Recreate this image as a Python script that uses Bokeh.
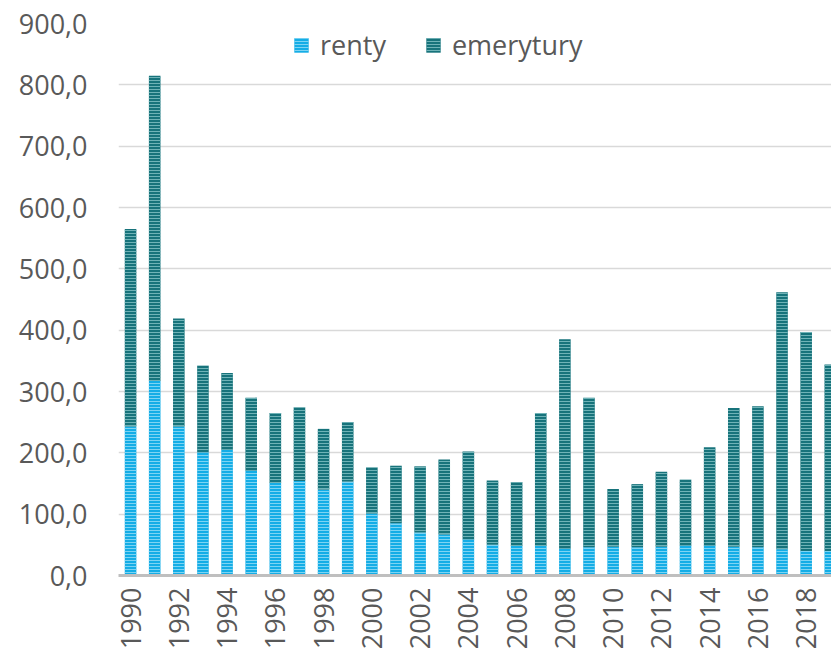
from bokeh.plotting import figure
from bokeh.models import Range1d, FixedTicker, CustomJSTickFormatter, ColumnDataSource, Legend, LegendItem
from bokeh.embed import file_html
from bokeh.resources import INLINE
import math

years = list(range(1990, 2020))
renty = [243, 317, 243, 201, 205, 171, 151, 154, 140, 153,
         101, 85, 70, 67, 59, 50, 48, 48, 44, 46,
         47, 46, 47, 49, 49, 47, 46, 43, 40, 40]
emerytury_total = [565, 815, 419, 342, 330, 290, 265, 274, 239, 250,
                   176, 179, 178, 189, 202, 155, 152, 265, 385, 290,
                   141, 149, 169, 156, 209, 273, 276, 462, 397, 344]
emerytury = [t - r for t, r in zip(emerytury_total, renty)]
y_ticks = [0, 100, 200, 300, 400, 500, 600, 700, 800, 900]
x_ticks = list(range(1990, 2019, 2))

src = ColumnDataSource(dict(year=years, renty=renty, emerytury=emerytury))

FONT = "Open Sans"
TXT = "#595959"

p = figure(width=831, height=652, output_backend="svg", toolbar_location=None,
           x_range=Range1d(1989.5, 2019.05), y_range=Range1d(0, 900),
           min_border_left=118, min_border_right=0, min_border_top=23, min_border_bottom=10)
p.outline_line_color = None
p.background_fill_color = "white"
p.border_fill_color = "white"

r = p.vbar_stack(["renty", "emerytury"], x="year", width=0.48, source=src,
                 color=["#14ade6", "#17737b"],
                 line_color=None,
                 hatch_pattern="horizontal_line", hatch_scale=3, hatch_weight=1,
                 hatch_color=["#7dd4f3", "#6fb3b7"])

p.xgrid.grid_line_color = None
p.ygrid.grid_line_color = "#d9d9d9"
p.ygrid.grid_line_width = 1.5
p.yaxis.ticker = FixedTicker(ticks=y_ticks)
p.yaxis.formatter = CustomJSTickFormatter(code="return tick.toFixed(1).replace('.', ',');")
p.yaxis.axis_line_color = None
p.yaxis.major_tick_line_color = None
p.yaxis.minor_tick_line_color = None
p.yaxis.major_tick_out = 0
p.yaxis.major_tick_in = 0
p.yaxis.major_label_standoff = 31
p.yaxis.major_label_text_font = FONT
p.yaxis.major_label_text_font_size = "27px"
p.yaxis.major_label_text_color = TXT

p.xaxis.ticker = FixedTicker(ticks=x_ticks)
p.xaxis.axis_line_color = "#bfbfbf"
p.xaxis.axis_line_width = 3
p.xaxis.major_tick_line_color = None
p.xaxis.minor_tick_line_color = None
p.xaxis.major_tick_out = 0
p.xaxis.major_tick_in = 0
p.xaxis.major_label_orientation = math.pi / 2
p.xaxis.major_label_standoff = 12
p.xaxis.major_label_text_font = FONT
p.xaxis.major_label_text_font_size = "27px"
p.xaxis.major_label_text_color = TXT

legend = Legend(items=[LegendItem(label="renty", renderers=[r[0]]),
                       LegendItem(label="emerytury", renderers=[r[1]])],
                orientation="horizontal", location=(174, 512),
                padding=0, margin=0, spacing=38, label_standoff=10,
                glyph_width=18, glyph_height=18,
                label_text_font=FONT, label_text_font_size="27px",
                label_text_color=TXT, border_line_color=None,
                background_fill_alpha=0)
p.add_layout(legend, "center")

open("out.html", "w").write(file_html(p, INLINE))
